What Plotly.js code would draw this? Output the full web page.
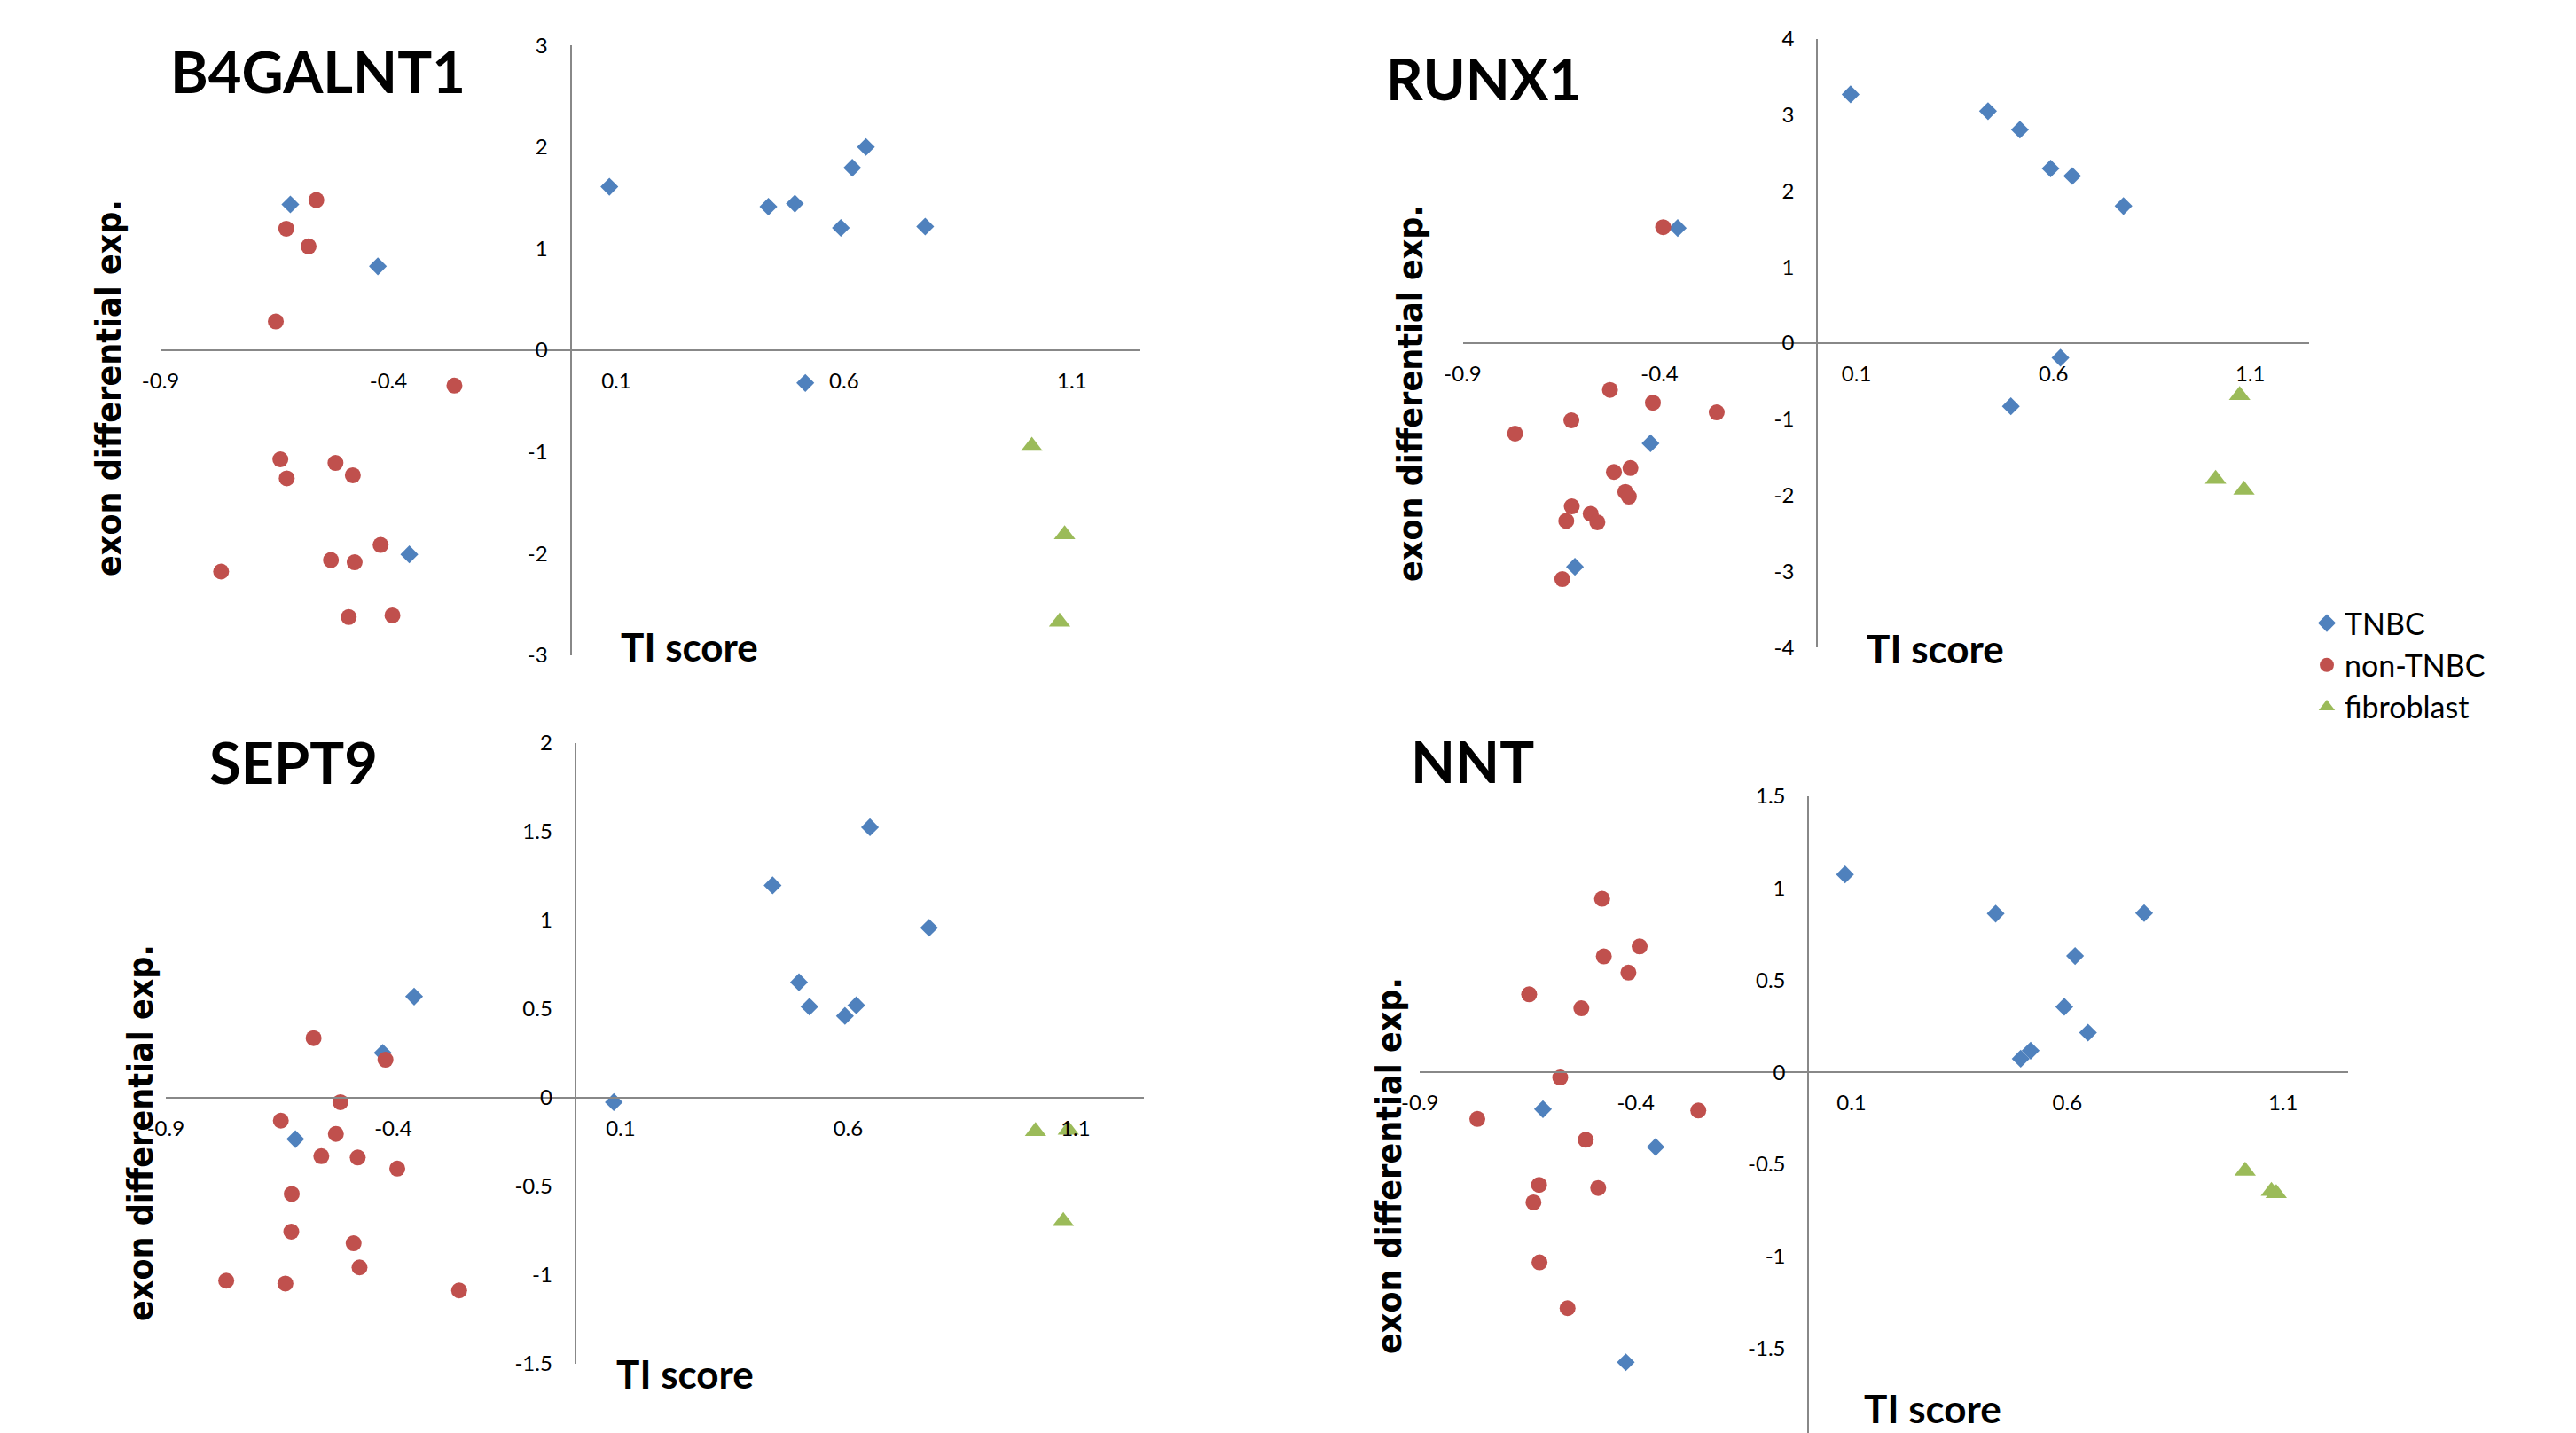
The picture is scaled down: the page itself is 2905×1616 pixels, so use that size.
<!DOCTYPE html>
<html>
<head>
<meta charset="utf-8">
<script src="https://cdn.plot.ly/plotly-3.0.1.min.js"></script>
<style>
  html, body { margin: 0; padding: 0; background: #ffffff; }
  #chart { width: 2905px; height: 1616px; }
</style>
</head>
<body>
<div id="chart"></div>
<script>
// ---------------- DATA ----------------
const genes = ["B4GALNT1", "RUNX1", "SEPT9", "NNT"];
const groupNames = ["TNBC", "non-TNBC", "fibroblast"];

// TI score (x) of each sample, per group
const tnbcTI    = [-0.615, -0.423, -0.354, 0.085, 0.434, 0.492, 0.515, 0.593, 0.618, 0.648, 0.778];
const nonTnbcTI = [-0.767, -0.647, -0.637, -0.624, -0.623, -0.575, -0.558, -0.526, -0.516, -0.487, -0.478, -0.474, -0.417, -0.391, -0.255];
const fibroTI   = [1.012, 1.073, 1.084];

// exon differential expression (y), per gene and group
const b4galnt1Tnbc    = [1.435, 0.826, -2.009, 1.609, 1.413, 1.443, -0.322, 1.204, 1.796, 2.0, 1.217];
const b4galnt1NonTnbc = [-2.178, 0.283, -1.074, 1.196, -1.261, 1.022, 1.478, -2.065, -1.109, -2.626, -1.230, -2.087, -1.917, -2.609, -0.348];
const b4galnt1Fibro   = [-0.943, -2.674, -1.813];

const runx1Tnbc    = [-2.939, -1.316, 1.513, 3.27, 3.05, -0.829, 2.806, 2.296, -0.191, 2.197, 1.803];
const runx1NonTnbc = [-1.188, -3.101, -2.336, -1.014, -2.145, -2.243, -2.354, -0.614, -1.693, -1.954, -2.017, -1.641, -0.783, 1.525, -0.910];
const runx1Fibro   = [-1.786, -0.684, -1.930];

const sept9Tnbc    = [-0.234, 0.252, 0.569, -0.026, 1.196, 0.650, 0.512, 0.460, 0.520, 1.523, 0.957];
const sept9NonTnbc = [-1.032, -0.130, -1.048, -0.756, -0.543, 0.335, -0.330, -0.205, -0.026, -0.821, -0.338, -0.957, 0.213, -0.400, -1.087];
const sept9Fibro   = [-0.190, -0.697, -0.182];

const nntTnbc    = [-0.201, -1.576, -0.406, 1.074, 0.861, 0.073, 0.117, 0.355, 0.631, 0.215, 0.864];
const nntNonTnbc = [-0.254, 0.423, -0.707, -0.612, -1.033, -0.029, -1.282, 0.347, -0.367, -0.629, 0.942, 0.629, 0.541, 0.683, -0.208];
const nntFibro   = [-0.536, -0.646, -0.658];

// tick labels
const xTickVals = [-0.9, -0.4, 0.1, 0.6, 1.1];
const xTickText = ["-0.9", "-0.4", "0.1", "0.6", "1.1"];
const yTickValsB4 = [-3, -2, -1, 0, 1, 2, 3];
const yTickTextB4 = ["-3", "-2", "-1", "0", "1", "2", "3"];
const yTickValsRU = [-4, -3, -2, -1, 0, 1, 2, 3, 4];
const yTickTextRU = ["-4", "-3", "-2", "-1", "0", "1", "2", "3", "4"];
const yTickValsSE = [-1.5, -1, -0.5, 0, 0.5, 1, 1.5, 2];
const yTickTextSE = ["-1.5", "-1", "-0.5", "0", "0.5", "1", "1.5", "2"];
const yTickValsNN = [-2, -1.5, -1, -0.5, 0, 0.5, 1, 1.5];
const yTickTextNN = ["-2", "-1.5", "-1", "-0.5", "0", "0.5", "1", "1.5"];

const xTitle = "TI score";
const yTitle = "exon differential exp.";

// ---------------- LAYOUT CONSTANTS ----------------
const W = 2905, H = 1616;
const panels = [
  { gene: genes[0], ys: [b4galnt1Tnbc, b4galnt1NonTnbc, b4galnt1Fibro], yRange: [-3, 3],
    yTicks: [yTickValsB4, yTickTextB4], px: [181.0, 1285.9], py: [51.2, 738.7],
    title: [358, 80], ytitle: [122, 438], xtitle: [778, 729] },
  { gene: genes[1], ys: [runx1Tnbc, runx1NonTnbc, runx1Fibro], yRange: [-4, 4],
    yTicks: [yTickValsRU, yTickTextRU], px: [1649.5, 2604.3], py: [43.8, 730.2],
    title: [1673, 88], ytitle: [1590, 444], xtitle: [2182, 731] },
  { gene: genes[2], ys: [sept9Tnbc, sept9NonTnbc, sept9Fibro], yRange: [-1.5, 2],
    yTicks: [yTickValsSE, yTickTextSE], px: [186.9, 1289.9], py: [837.5, 1537.9],
    title: [331, 859], ytitle: [158, 1278], xtitle: [772, 1549] },
  { gene: genes[3], ys: [nntTnbc, nntNonTnbc, nntFibro], yRange: [-1.96, 1.5],
    yTicks: [yTickValsNN, yTickTextNN], px: [1601.3, 2647.7], py: [897.7, 1616],
    title: [1660, 858], ytitle: [1566, 1315], xtitle: [2179, 1588] }
];
const xRange = [-0.9, 1.25];
const xs = [tnbcTI, nonTnbcTI, fibroTI];
const colors = ["#4F81BD", "#C0504D", "#9BBB59"];
const symbols = ["diamond", "circle", "triangle-up"];
const sizes = [15.5, 18, 21];

const tickFont = { family: "Lato, 'Open Sans', sans-serif", size: 24, color: "#000000" };
const axisLine = "#888888";

const traces = [];
const layout = {
  width: W, height: H,
  margin: { l: 0, r: 0, t: 0, b: 0, pad: 0 },
  paper_bgcolor: "#ffffff", plot_bgcolor: "rgba(0,0,0,0)",
  showlegend: true,
  legend: {
    x: 2604 / W, y: 1 - 674 / H, xanchor: "left", yanchor: "top",
    font: { family: "Lato, 'Open Sans', sans-serif", size: 34, color: "#000000" },
    bgcolor: "rgba(0,0,0,0)", borderwidth: 0, itemwidth: 30, tracegroupgap: 0
  },
  annotations: []
};

panels.forEach((p, i) => {
  const n = i === 0 ? "" : String(i + 1);
  const xd = [p.px[0] / W, p.px[1] / W];
  const yd = [1 - p.py[1] / H, 1 - p.py[0] / H];
  const xPos = xd[0] + (0 - xRange[0]) / (xRange[1] - xRange[0]) * (xd[1] - xd[0]);
  const yPos = yd[0] + (0 - p.yRange[0]) / (p.yRange[1] - p.yRange[0]) * (yd[1] - yd[0]);

  layout["xaxis" + n] = {
    domain: xd, range: xRange, anchor: "free", position: yPos,
    tickmode: "array", tickvals: xTickVals, ticktext: xTickText,
    ticks: "", ticklabelstandoff: 13, tickfont: tickFont,
    showgrid: false, zeroline: false, showline: true, linecolor: axisLine, linewidth: 2,
    fixedrange: true
  };
  layout["yaxis" + n] = {
    domain: yd, range: p.yRange, anchor: "free", position: xPos,
    tickmode: "array", tickvals: p.yTicks[0], ticktext: p.yTicks[1],
    ticks: "", ticklabelstandoff: 20, tickfont: tickFont,
    showgrid: false, zeroline: false, showline: true, linecolor: axisLine, linewidth: 2,
    fixedrange: true
  };

  for (let g = 0; g < 3; g++) {
    traces.push({
      type: "scatter", mode: "markers",
      x: xs[g], y: p.ys[g],
      xaxis: "x" + n, yaxis: "y" + n,
      name: groupNames[g], legendgroup: groupNames[g], showlegend: i === 0,
      marker: { symbol: symbols[g], size: sizes[g], color: colors[g], line: { width: 0 } },
      hoverinfo: "x+y+name"
    });
  }

  layout.annotations.push({
    xref: "paper", yref: "paper", x: p.title[0] / W, y: 1 - p.title[1] / H,
    xanchor: "center", yanchor: "middle", showarrow: false, text: "<b>" + p.gene + "</b>",
    font: { family: "Lato, 'Open Sans', sans-serif", size: 65, color: "#000000" }
  });
  layout.annotations.push({
    xref: "paper", yref: "paper", x: p.ytitle[0] / W, y: 1 - p.ytitle[1] / H,
    xanchor: "center", yanchor: "middle", showarrow: false, textangle: -90,
    text: "<b>" + yTitle + "</b>",
    font: { family: "'DejaVu Sans Condensed', 'DejaVu Sans', sans-serif", size: 39, color: "#000000" }
  });
  layout.annotations.push({
    xref: "paper", yref: "paper", x: p.xtitle[0] / W, y: 1 - p.xtitle[1] / H,
    xanchor: "center", yanchor: "middle", showarrow: false, text: "<b>" + xTitle + "</b>",
    font: { family: "Lato, 'Open Sans', sans-serif", size: 44, color: "#000000" }
  });
});

Plotly.newPlot("chart", traces, layout, { displayModeBar: false, staticPlot: false });
</script>
</body>
</html>
